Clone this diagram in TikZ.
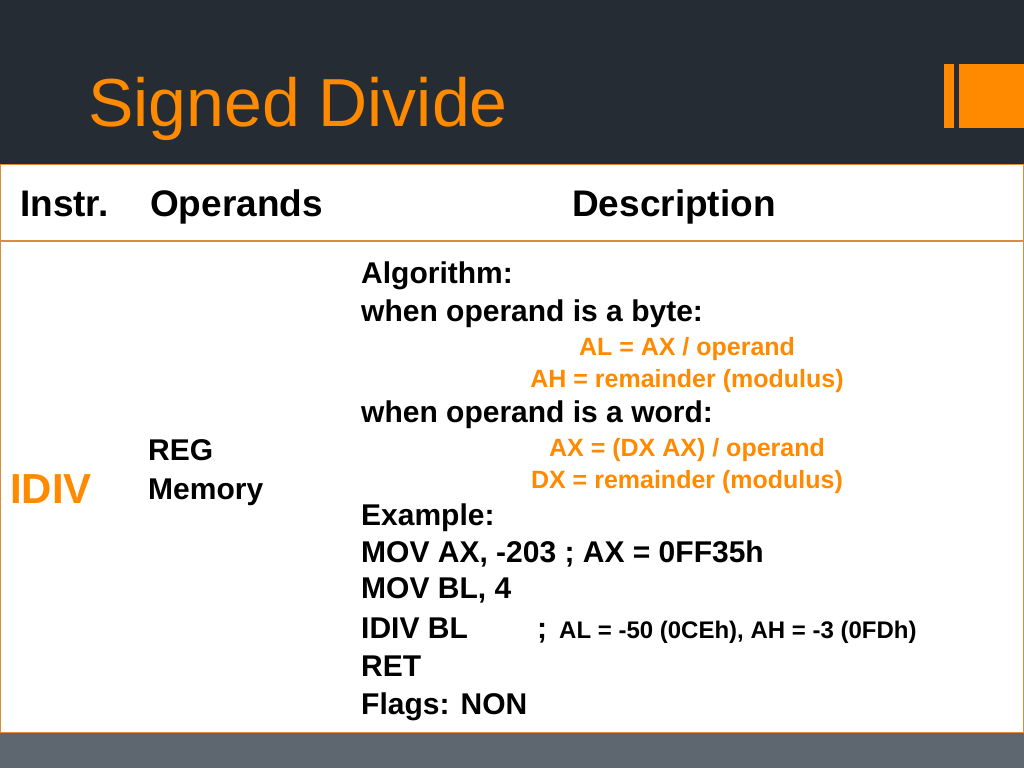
\documentclass[tikz,border=0pt]{standalone}
\usepackage{fontspec}
\setmainfont{Liberation Sans}
\definecolor{dark}{HTML}{262C33}
\definecolor{org}{HTML}{FF8A00}
\definecolor{foot}{HTML}{5E6770}
\definecolor{bord}{HTML}{E08A3C}
\begin{document}
\begin{tikzpicture}[x=1pt,y=-1pt,
  t/.style={anchor=base west,inner sep=0pt,font=\fontsize{30}{30}\selectfont\bfseries},
  o/.style={anchor=base,inner sep=0pt,text=org,font=\fontsize{25}{25}\selectfont\bfseries},
  h/.style={anchor=base west,inner sep=0pt,font=\fontsize{37}{37}\selectfont\bfseries}]
\useasboundingbox (0,0) rectangle (1024,768);
\fill[dark] (0,0) rectangle (1024,164);
\fill[foot] (0,733) rectangle (1024,768);
\fill[org] (944,64) rectangle (954,128);
\fill[org] (959,64) rectangle (1024,128);
\node[anchor=base west,inner sep=0pt,text=org,font=\fontsize{68}{68}\selectfont] (title) at (88,126) {Signed Divide};
\draw[bord,line width=1.2pt] (0,164.5) rectangle (1023.5,732.5);
\draw[bord,line width=1.2pt] (0,241) -- (1023.5,241);
\node[h] (c1) at (20,216) {Instr.};
\node[h] (c2) at (150,216) {Operands};
\node[h] (c3) at (572,216) {Description};
\node[anchor=base west,inner sep=0pt,text=org,font=\fontsize{42}{42}\selectfont\bfseries] (idiv) at (10,503) {IDIV};
\node[t] (reg) at (148,460) {REG};
\node[t] (mem) at (148,499) {Memory};
\node[t] (l1) at (361,283) {Algorithm:};
\node[t] (l2) at (361,321) {when operand is a byte:};
\node[o] (l3) at (687,355) {AL = AX / operand};
\node[o] (l4) at (687,387) {AH = remainder (modulus)};
\node[t] (l5) at (361,422) {when operand is a word:};
\node[o] (l6) at (687,456) {AX = (DX AX) / operand};
\node[o] (l7) at (687,488) {DX = remainder (modulus)};
\node[t] (l8) at (361,525) {Example:};
\node[t] (l9) at (361,562) {MOV AX, -203 ; AX = 0FF35h};
\node[t] (l10) at (361,598) {MOV BL, 4};
\node[t] (l11) at (361,638) {IDIV BL};
\node[t] (semi) at (537,638) {;};
\node[anchor=base west,inner sep=0pt,font=\fontsize{24}{24}\selectfont\bfseries] (cm) at (559,638) {AL = -50 (0CEh), AH = -3 (0FDh)};
\node[t] (l12) at (361,676) {RET};
\node[t] (l13) at (361,714) {Flags: NON};
\end{tikzpicture}
\end{document}
